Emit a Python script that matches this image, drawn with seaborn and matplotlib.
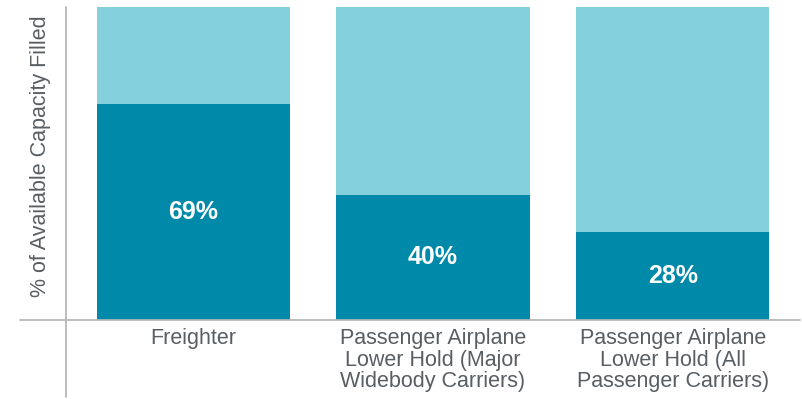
import matplotlib
matplotlib.use("Agg")
import matplotlib.pyplot as plt
import seaborn as sns
import pandas as pd
from matplotlib.lines import Line2D

# Data
categories = ["Freighter",
              "Passenger Airplane\nLower Hold (Major\nWidebody Carriers)",
              "Passenger Airplane\nLower Hold (All\nPassenger Carriers)"]
filled = [69, 40, 28]
total = [100, 100, 100]

dark = "#0089A8"
light = "#84D1DD"
grey_txt = "#595E63"
grey_line = "#B4B6B8"

sns.set_theme(style="white")
plt.rcParams["font.family"] = ["Liberation Sans", "DejaVu Sans"]

df = pd.DataFrame({"cat": categories, "filled": filled, "total": total})

fig = plt.figure(figsize=(8.02, 3.99), dpi=100)
ax = fig.add_axes([66 / 802, 79 / 399, 734 / 802, 313 / 399])

sns.barplot(data=df, x="cat", y="total", color=light, width=0.805,
            saturation=1, ax=ax, edgecolor="none")
sns.barplot(data=df, x="cat", y="filled", color=dark, width=0.805,
            saturation=1, ax=ax, edgecolor="none")

for i, v in enumerate(filled):
    ax.text(i, v / 2, f"{v}%", ha="center", va="center", color="white",
            fontsize=18, fontweight="bold")

ax.set_ylim(0, 100)
ax.set_xlim(-0.53, 2.53)
ax.set_yticks([])
ax.set_xlabel("")
ax.set_ylabel("% of Available Capacity Filled", fontsize=15.5, color=grey_txt)
ax.yaxis.set_label_coords(-0.021, 0.524)
ax.tick_params(axis="x", length=0, pad=6, labelsize=15.5, labelcolor=grey_txt)
for lab in ax.get_xticklabels():
    lab.set_linespacing(1.02)
for s in ax.spines.values():
    s.set_visible(False)

# axis lines, drawn in figure coordinates
fig.add_artist(Line2D([20 / 802, 800 / 802], [79 / 399, 79 / 399],
                      transform=fig.transFigure, color=grey_line, lw=1.3))
fig.add_artist(Line2D([65.5 / 802, 65.5 / 802], [2 / 399, 392 / 399],
                      transform=fig.transFigure, color=grey_line, lw=1.3))

fig.savefig("out.png", dpi=100)
